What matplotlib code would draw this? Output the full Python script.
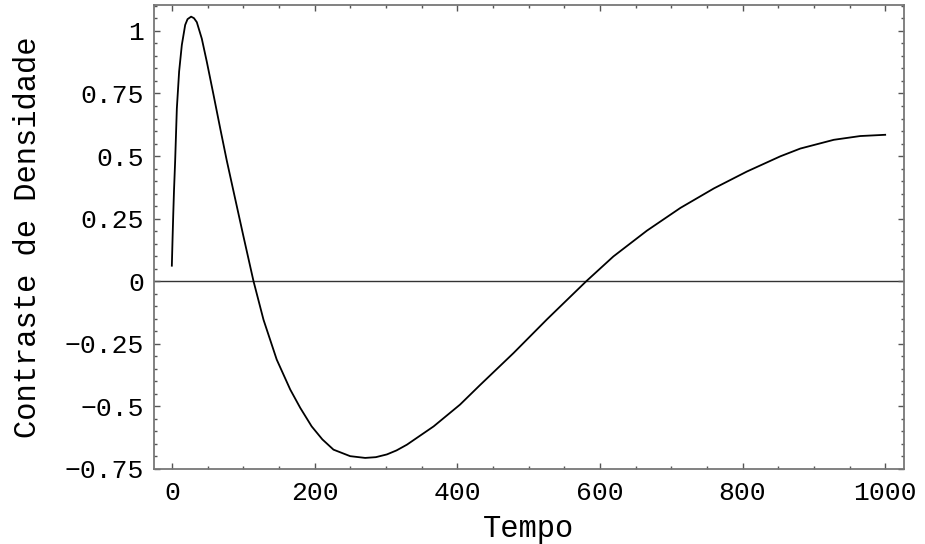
import matplotlib
matplotlib.use("Agg")
import matplotlib.pyplot as plt
from matplotlib.ticker import MultipleLocator, FixedLocator

# Data
tempo = [0, 1, 2, 3, 4.6, 7, 10.2, 14, 18.7, 22, 27, 31, 35, 42, 49, 58.4, 67.7,
         77, 86.4, 100.4, 114.5, 128.5, 147, 166, 180, 196, 211, 226.6, 250, 271,
         286, 301.5, 315, 329.6, 367, 404, 432, 479, 526, 581, 619, 666, 713, 760,
         806, 853, 881, 928, 965, 1000]
contraste = [0.062, 0.17, 0.27, 0.36, 0.478, 0.69, 0.838, 0.944, 1.024, 1.047,
             1.057, 1.051, 1.035, 0.969, 0.877, 0.745, 0.612, 0.482, 0.36, 0.179,
             0.0, -0.154, -0.313, -0.433, -0.506, -0.58, -0.632, -0.673, -0.699,
             -0.706, -0.703, -0.692, -0.676, -0.653, -0.58, -0.493, -0.415,
             -0.287, -0.152, 0.0, 0.099, 0.202, 0.293, 0.371, 0.438, 0.499, 0.53,
             0.565, 0.58, 0.585]
xticks = [0, 200, 400, 600, 800, 1000]
yticks = [-0.75, -0.5, -0.25, 0, 0.25, 0.5, 0.75, 1]
ytick_labels = ["-0.75", "-0.5", "-0.25", "0", "0.25", "0.5", "0.75", "1"]
xlabel = "Tempo"
ylabel = "Contraste de Densidade"

font = "Liberation Mono"
fig = plt.figure(figsize=(9.25, 5.44), dpi=100)
ax = fig.add_axes([0.1665, 0.138, 0.977 - 0.1665, 0.991 - 0.138])

ax.axhline(0, color="#333333", lw=1.0, zorder=1)
ax.plot(tempo, contraste, color="black", lw=1.3, zorder=2,
        solid_joinstyle="round")

ax.set_xlim(-25, 1026)
ax.set_ylim(-0.75, 1.104)

ax.xaxis.set_major_locator(FixedLocator(xticks))
ax.xaxis.set_minor_locator(MultipleLocator(50))
ax.yaxis.set_major_locator(FixedLocator(yticks))
ax.yaxis.set_minor_locator(MultipleLocator(0.05))
ax.set_xticklabels([str(v) for v in xticks])
ax.set_yticklabels([t.replace("-", "\u2212") for t in ytick_labels])

for side in ["left", "right", "top", "bottom"]:
    ax.spines[side].set_color("#777777")
    ax.spines[side].set_linewidth(1.3)

ax.tick_params(which="both", direction="in", top=True, right=True,
               color="#555555", width=1.0)
ax.tick_params(which="major", length=4.5, labelsize=19)
ax.tick_params(which="minor", length=2.3)
ax.tick_params(axis="y", pad=7)
ax.tick_params(axis="x", pad=9)
for lab in ax.get_xticklabels() + ax.get_yticklabels():
    lab.set_fontfamily(font)

ax.set_xlabel(xlabel, fontsize=22, fontfamily=font, labelpad=6)
ax.set_ylabel(ylabel, fontsize=22, fontfamily=font, labelpad=16)

fig.savefig("out.png", dpi=100)
